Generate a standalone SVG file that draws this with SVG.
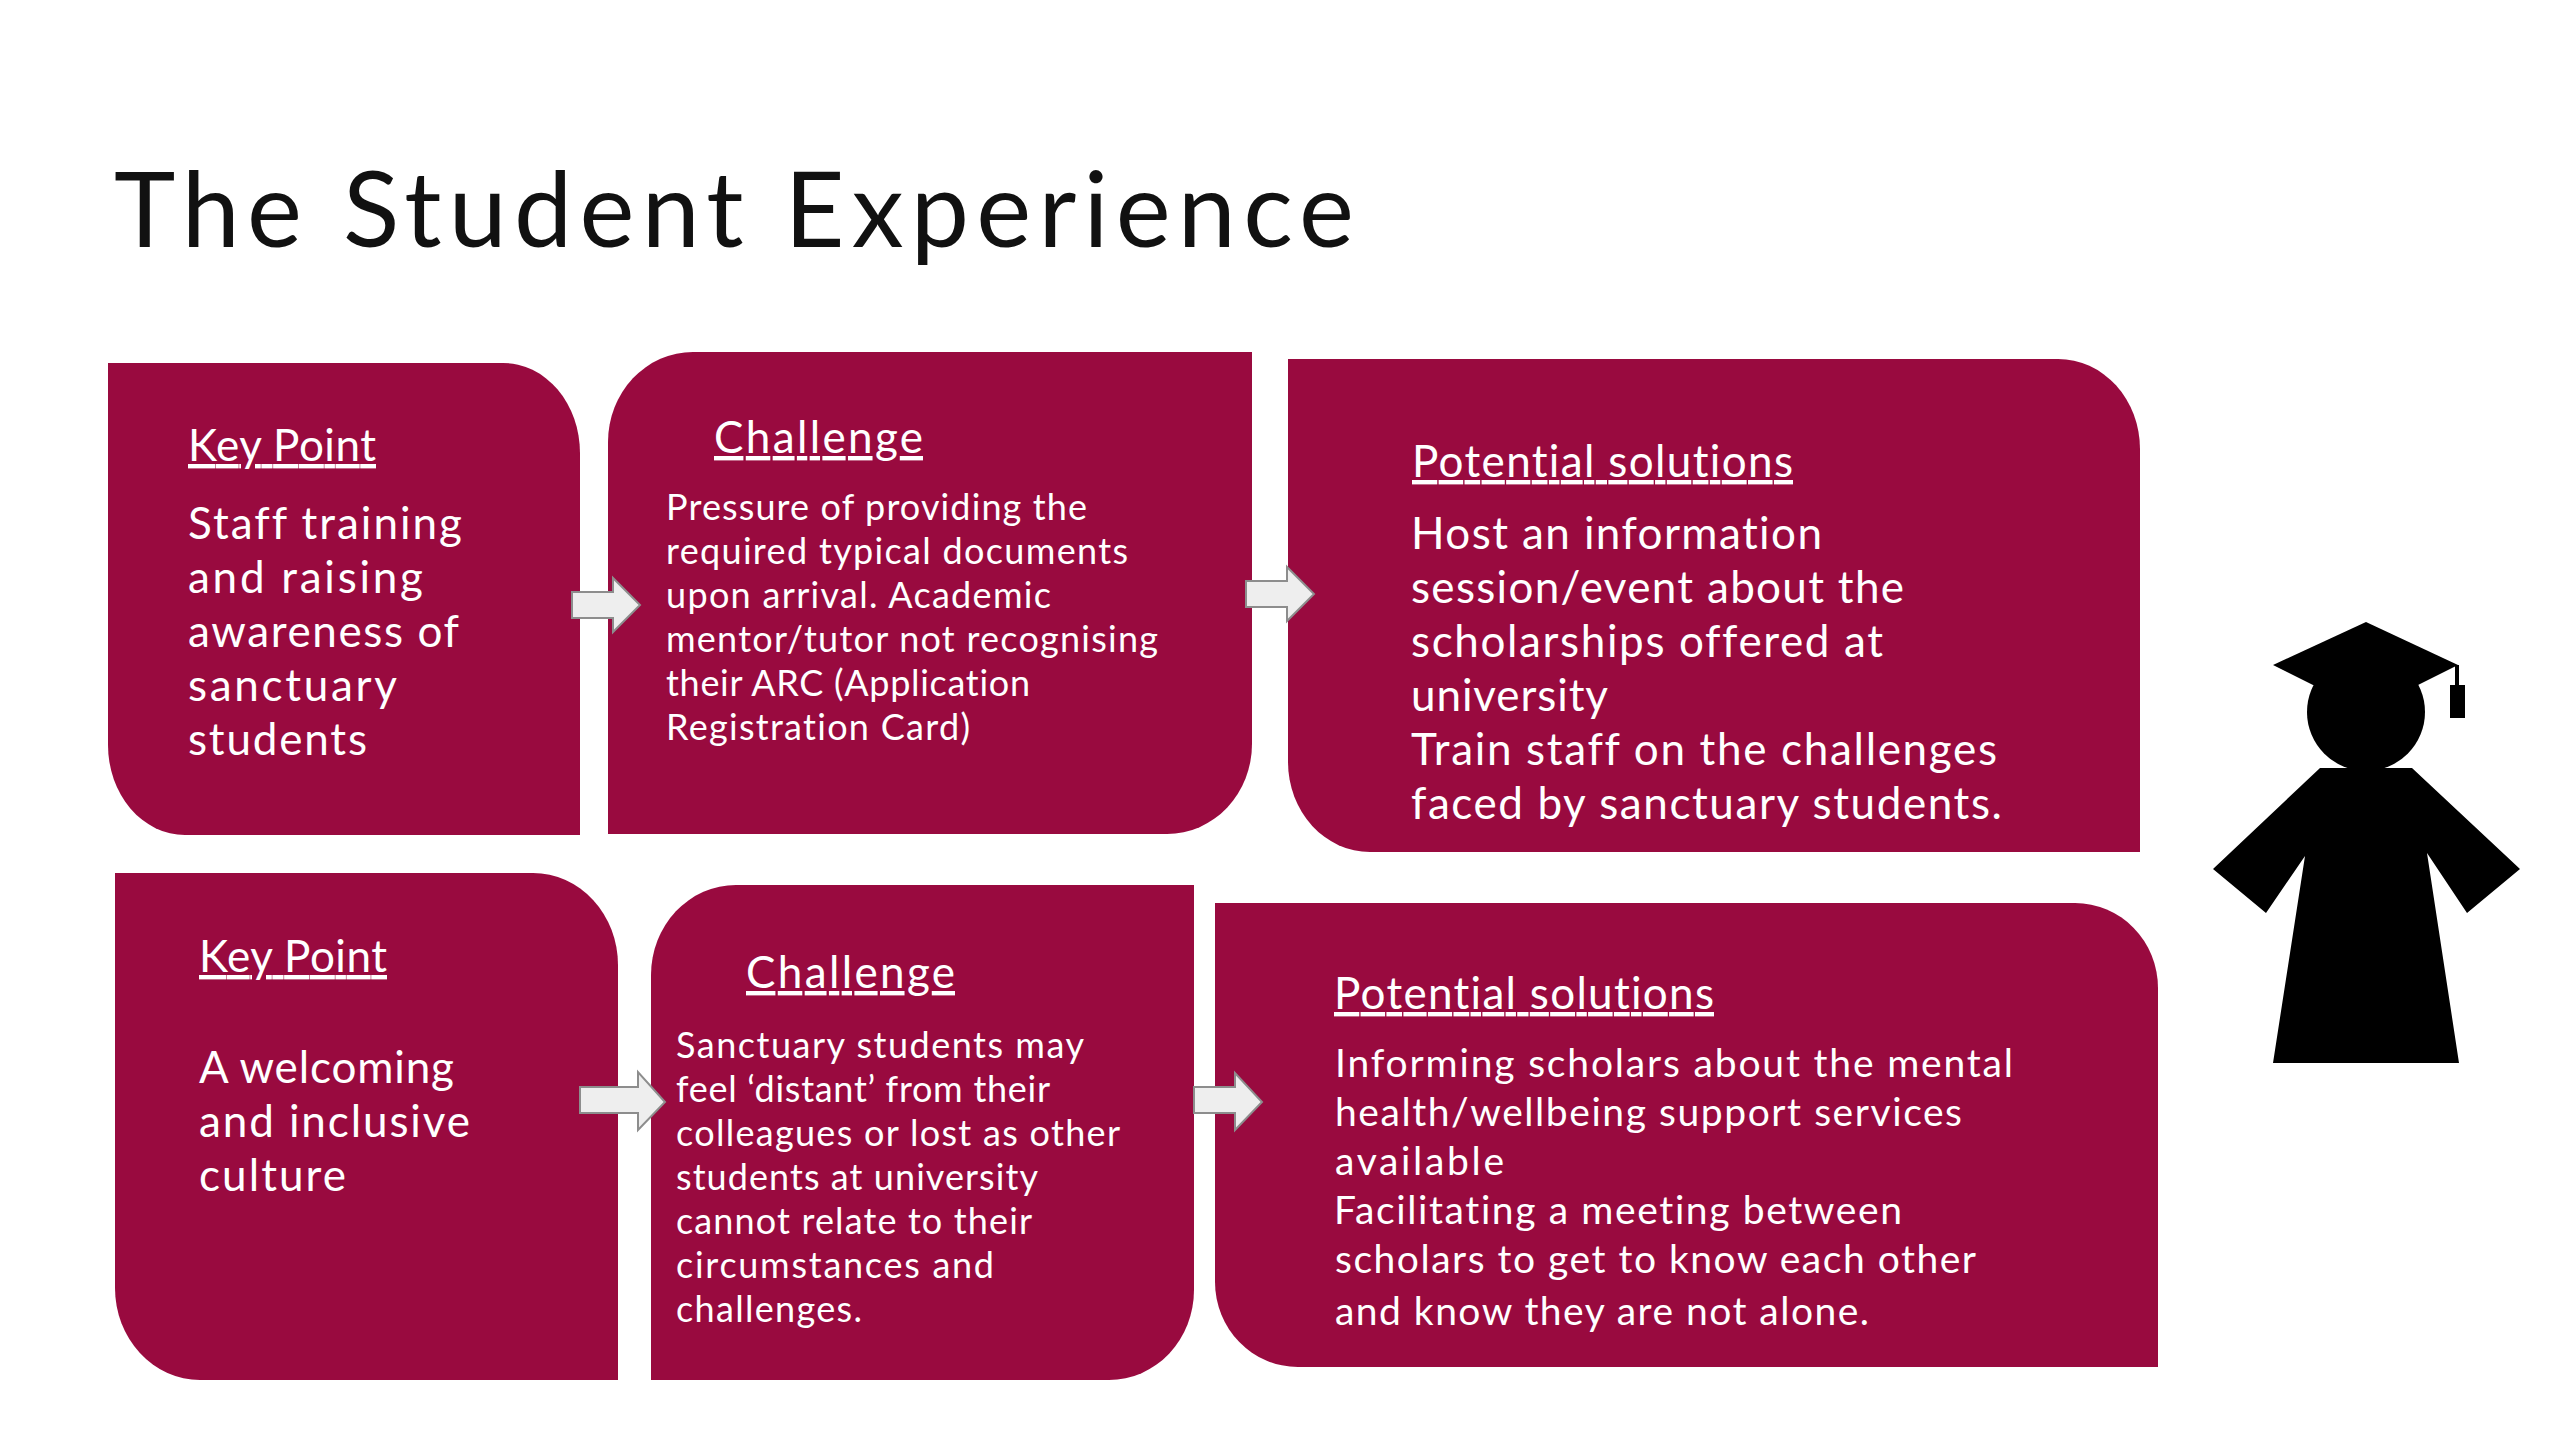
<svg xmlns="http://www.w3.org/2000/svg" width="2560" height="1440" viewBox="0 0 2560 1440">
<style>
text{font-family:"Lato","Open Sans","Noto Sans",sans-serif;fill:#fff;font-variant-ligatures:none}
.box{fill:#990a3f}
.title{font-size:104px;fill:#111}
.head{font-size:44px;text-decoration:underline}
.big{font-size:44px}
.small{font-size:36px}
.mid{font-size:39px}
.arrow{fill:#eeeeee;stroke:#8d8d8d;stroke-width:2}
</style>
<rect width="2560" height="1440" fill="#fff"/>
<g id="title"><text class="title" x="114" y="247" textLength="1240">The Student Experience</text></g>

<g id="keypoint-1">
<path class="box" d="M108 363H503A77 90 0 0 1 580 453V835H185A77 90 0 0 1 108 745Z"/>
<text class="head" x="188" y="461" textLength="188">Key Point</text>
<text class="big" x="188" y="539" textLength="274">Staff training</text>
<text class="big" x="188" y="593" textLength="235">and raising</text>
<text class="big" x="188" y="647" textLength="271">awareness of</text>
<text class="big" x="188" y="701" textLength="209">sanctuary</text>
<text class="big" x="188" y="755" textLength="179">students</text>
</g>

<g id="challenge-1">
<path class="box" d="M608 442A85 90 0 0 1 693 352H1252V744A85 90 0 0 1 1167 834H608Z"/>
<text class="head" x="714" y="453" textLength="209">Challenge</text>
<text class="small" x="666" y="520" textLength="421">Pressure of providing the</text>
<text class="small" x="666" y="564" textLength="462">required typical documents</text>
<text class="small" x="666" y="608" textLength="385">upon arrival. Academic</text>
<text class="small" x="666" y="652" textLength="492">mentor/tutor not recognising</text>
<text class="small" x="666" y="696" textLength="364">their ARC (Application</text>
<text class="small" x="666" y="740" textLength="304">Registration Card)</text>
</g>

<g id="solutions-1">
<path class="box" d="M1288 359H2058A82 90 0 0 1 2140 449V852H1370A82 90 0 0 1 1288 762Z"/>
<text class="head" x="1412" y="477" textLength="381">Potential solutions</text>
<text class="big" x="1411" y="549" textLength="411">Host an information</text>
<text class="big" x="1411" y="603" textLength="493">session/event about the</text>
<text class="big" x="1411" y="657" textLength="472">scholarships offered at</text>
<text class="big" x="1411" y="711" textLength="197">university</text>
<text class="big" x="1411" y="765" textLength="586">Train staff on the challenges</text>
<text class="big" x="1411" y="819" textLength="591">faced by sanctuary students.</text>
</g>

<g id="keypoint-2">
<path class="box" d="M115 873H533A85 92 0 0 1 618 965V1380H200A85 92 0 0 1 115 1288Z"/>
<text class="head" x="199" y="972" textLength="188">Key Point</text>
<text class="big" x="199" y="1083" textLength="255">A welcoming</text>
<text class="big" x="199" y="1137" textLength="271">and inclusive</text>
<text class="big" x="199" y="1191" textLength="147">culture</text>
</g>

<g id="challenge-2">
<path class="box" d="M651 975A85 90 0 0 1 736 885H1194V1290A85 90 0 0 1 1109 1380H651Z"/>
<text class="head" x="746" y="988" textLength="209">Challenge</text>
<text class="small" x="676" y="1058" textLength="408">Sanctuary students may</text>
<text class="small" x="676" y="1102" textLength="374">feel ‘distant’ from their</text>
<text class="small" x="676" y="1146" textLength="444">colleagues or lost as other</text>
<text class="small" x="676" y="1190" textLength="362">students at university</text>
<text class="small" x="676" y="1234" textLength="356">cannot relate to their</text>
<text class="small" x="676" y="1278" textLength="318">circumstances and</text>
<text class="small" x="676" y="1322" textLength="186">challenges.</text>
</g>

<g id="solutions-2">
<path class="box" d="M1215 903H2075A83 85 0 0 1 2158 988V1367H1298A83 85 0 0 1 1215 1282Z"/>
<text class="head" x="1334" y="1009" textLength="380">Potential solutions</text>
<text class="mid" x="1335" y="1077" textLength="678">Informing scholars about the mental</text>
<text class="mid" x="1335" y="1126" textLength="627">health/wellbeing support services</text>
<text class="mid" x="1335" y="1175" textLength="169">available</text>
<text class="mid" x="1334" y="1224" textLength="568">Facilitating a meeting between</text>
<text class="mid" x="1335" y="1273" textLength="641">scholars to get to know each other</text>
<text class="mid" x="1335" y="1325" textLength="534">and know they are not alone.</text>
</g>

<g id="connectors">
<path class="arrow" d="M572 592H613V578L640 605L613 632V618H572Z"/>
<path class="arrow" d="M1246 581H1287V567L1314 594L1287 621V607H1246Z"/>
<path class="arrow" d="M580 1087H638V1072L665 1102L638 1130V1113H580Z"/>
<path class="arrow" d="M1194 1087H1235V1073L1262 1102L1235 1130V1113H1194Z"/>
</g>

<g id="graduate">
<polygon points="2366,622 2458,665 2418,685 2313,685 2273,665"/>
<circle cx="2366" cy="712" r="59"/>
<polygon points="2320,768 2412,768 2520,869 2467,913 2427,853 2459,1063 2273,1063 2305,856 2266,913 2213,869"/>
<rect x="2455" y="665" width="4" height="22"/>
<rect x="2450" y="685" width="15" height="33"/>
</g>
</svg>
